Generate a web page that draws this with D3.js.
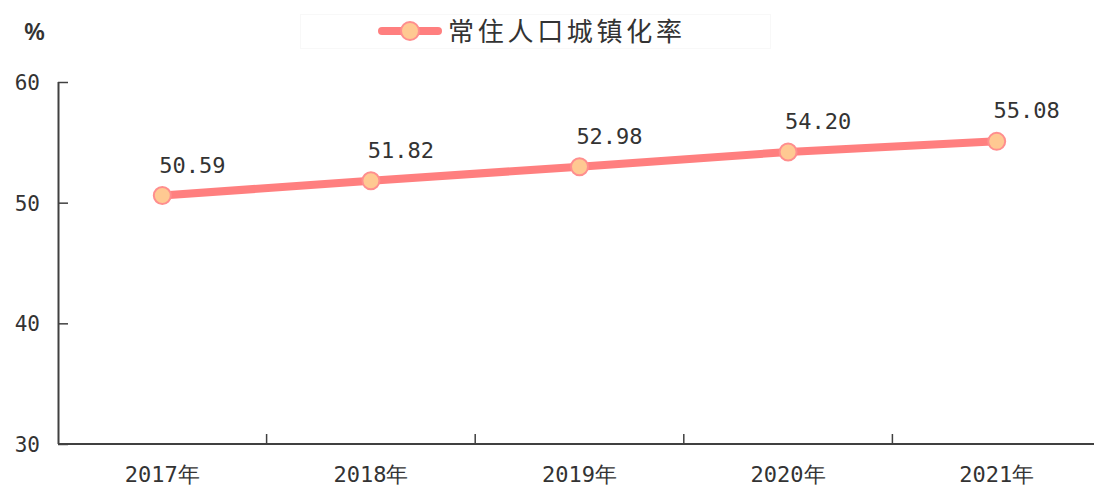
<!DOCTYPE html>
<html>
<head>
<meta charset="utf-8">
<script src="https://cdn.jsdelivr.net/npm/d3@7"></script>
<style>
  body { margin: 0; background: #fff; }
</style>
</head>
<body>
<div id="chart"></div>
<script>
// data
const years = ["2017年", "2018年", "2019年", "2020年", "2021年"];
const rate = [50.59, 51.82, 52.98, 54.20, 55.08];
const yTicks = [30, 40, 50, 60];
const seriesName = "常住人口城镇化率";

const width = 1094, height = 488;
const margin = {top: 82, right: -7, bottom: 44, left: 58};
const numFont = "'DejaVu Sans Mono', 'Liberation Mono', monospace";
const cjkFont = "'Noto Sans CJK SC', sans-serif";

const svg = d3.select("#chart").append("svg")
    .attr("width", width)
    .attr("height", height);

const x = d3.scaleBand()
    .domain(years)
    .range([margin.left, width - margin.right]);

const y = d3.scaleLinear()
    .domain([30, 60])
    .range([height - margin.bottom, margin.top]);

// y axis, ticks pointing inward
const yAxis = svg.append("g")
    .attr("transform", `translate(${margin.left},0)`)
    .call(d3.axisRight(y).tickValues(yTicks).tickSize(10).tickFormat(""));
yAxis.select(".domain").attr("stroke", "#404040").attr("stroke-width", 2).attr("d", `M0.5,${y(60)}V${y(30)}`);
yAxis.selectAll(".tick line").attr("stroke", "#404040").attr("stroke-width", 1.5);

svg.append("g").selectAll("text")
    .data(yTicks)
    .join("text")
    .attr("x", 40)
    .attr("y", d => y(d) + 8)
    .attr("text-anchor", "end")
    .attr("fill", "#333")
    .style("font", `21px ${numFont}`)
    .text(d => d);

// x axis
const xAxis = svg.append("g")
    .attr("transform", `translate(0,${y(30)})`);
xAxis.append("line")
    .attr("x1", margin.left).attr("x2", width)
    .attr("stroke", "#404040").attr("stroke-width", 2);
xAxis.selectAll(".sep")
    .data(years.slice(1))
    .join("line")
    .attr("class", "sep")
    .attr("x1", d => x(d)).attr("x2", d => x(d))
    .attr("y1", 0).attr("y2", -10)
    .attr("stroke", "#404040").attr("stroke-width", 1.5);
xAxis.selectAll("text")
    .data(years)
    .join("text")
    .attr("x", d => x(d) + x.bandwidth() / 2)
    .attr("y", 38)
    .attr("text-anchor", "middle")
    .attr("fill", "#333")
    .style("font", `22px ${numFont}`)
    .text(d => d);

// line
const cx = (d, i) => x(years[i]) + x.bandwidth() / 2;
const line = d3.line()
    .x(cx)
    .y(d => y(d));

svg.append("path")
    .datum(rate)
    .attr("d", line)
    .attr("fill", "none")
    .attr("stroke", "#ff7f7f")
    .attr("stroke-width", 8);

svg.append("g").selectAll("circle")
    .data(rate)
    .join("circle")
    .attr("cx", cx)
    .attr("cy", d => y(d))
    .attr("r", 8.5)
    .attr("fill", "#ffc992")
    .attr("stroke", "#ff8e8e")
    .attr("stroke-width", 2);

svg.append("g").selectAll("text")
    .data(rate)
    .join("text")
    .attr("x", (d, i) => cx(d, i) + 30)
    .attr("y", d => y(d) - 23)
    .attr("text-anchor", "middle")
    .attr("fill", "#333")
    .style("font", `22px ${numFont}`)
    .text(d => d.toFixed(2));

// unit
svg.append("text")
    .attr("x", 24).attr("y", 40)
    .attr("fill", "#333")
    .style("font", `600 24px 'Noto Sans', sans-serif`)
    .text("%");

// legend
const lg = svg.append("g");
lg.append("rect")
    .attr("x", 300.5).attr("y", 14.5)
    .attr("width", 470).attr("height", 34)
    .attr("fill", "none")
    .attr("stroke", "#f8f8f8");
lg.append("line")
    .attr("x1", 382).attr("x2", 438)
    .attr("y1", 31).attr("y2", 31)
    .attr("stroke", "#ff7f7f")
    .attr("stroke-width", 8)
    .attr("stroke-linecap", "round");
lg.append("circle")
    .attr("cx", 410).attr("cy", 31).attr("r", 9)
    .attr("fill", "#ffc992")
    .attr("stroke", "#ff8e8e")
    .attr("stroke-width", 2);
lg.append("text")
    .attr("x", 448).attr("y", 41)
    .attr("fill", "#333")
    .style("font", `26px ${cjkFont}`)
    .attr("textLength", 234)
    .text(seriesName);
</script>
</body>
</html>
